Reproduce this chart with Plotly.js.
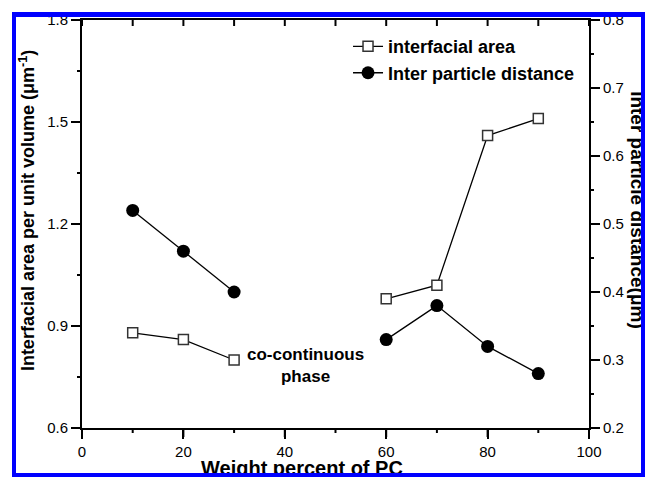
<!DOCTYPE html>
<html>
<head>
<meta charset="utf-8">
<script src="https://cdn.plot.ly/plotly-3.0.1.min.js"></script>
<style>
  html, body { margin: 0; padding: 0; background: #fff; }
  #wrap { position: relative; width: 647px; height: 477px; overflow: hidden; }
  #chart { position: absolute; left: 0; top: 0; width: 647px; height: 477px; }
  /* white margin plus blue frame drawn over the figure edges */
  #frame {
    position: absolute; left: 0; top: 0; width: 647px; height: 477px;
    box-sizing: border-box; border-style: solid; border-color: #fff;
    border-width: 12px 2px 0 12px; pointer-events: none;
  }
  #frame::after {
    content: ''; position: absolute; left: 0; top: 0; right: 0; bottom: 0;
    border: 4px solid #0000ff; border-top-width: 5px;
  }
</style>
</head>
<body>
<div id="wrap">
  <div id="chart"></div>
  <div id="frame"></div>
</div>
<script>
// Weight percent of PC in the blend
const weightPC = [10, 20, 30, 60, 70, 80, 90];
// Interfacial area per unit volume (µm^-1), left axis
const interfacialArea = [0.88, 0.86, 0.80, 0.98, 1.02, 1.46, 1.51];
// Inter particle distance (µm), right axis
const particleDistance = [0.52, 0.46, 0.40, 0.33, 0.38, 0.32, 0.28];

const seriesNames = ['interfacial area', 'Inter particle distance'];

// tick positions
const xMajorTicks = [0, 20, 40, 60, 80, 100];
const xMinorTicks = [10, 30, 50, 70, 90];
const leftMajorTicks = [0.6, 0.9, 1.2, 1.5, 1.8];
const leftMinorTicks = [0.75, 1.05, 1.35, 1.65];
const rightMajorTicks = [0.2, 0.3, 0.4, 0.5, 0.6, 0.7, 0.8];
const rightMinorTicks = [0.25, 0.35, 0.45, 0.55, 0.65, 0.75];

// break the line across the co-continuous composition range (30-60 wt%)
function withGap(xs, ys) {
  const gx = [], gy = [];
  xs.forEach((x, i) => {
    if (i > 0 && x - xs[i - 1] > 10) { gx.push(null); gy.push(null); }
    gx.push(x); gy.push(ys[i]);
  });
  return { x: gx, y: gy };
}

const FONT = 'Liberation Sans, Arial, Helvetica, sans-serif';
const a = withGap(weightPC, interfacialArea);
const d = withGap(weightPC, particleDistance);

const traces = [
  {
    x: a.x, y: a.y, name: seriesNames[0], type: 'scatter', mode: 'lines+markers',
    xaxis: 'x', yaxis: 'y', connectgaps: false,
    line: { color: '#000', width: 1.3 },
    marker: { symbol: 'square', size: 10, color: '#fff', line: { color: '#333', width: 1.5 } }
  },
  {
    x: d.x, y: d.y, name: seriesNames[1], type: 'scatter', mode: 'lines+markers',
    xaxis: 'x', yaxis: 'y2', connectgaps: false,
    line: { color: '#000', width: 1.3 },
    marker: { symbol: 'circle', size: 13, color: '#000', line: { width: 0 } }
  }
];

// tick marks as fixed-length pixel shapes anchored to the axis scales
const tickLine = { color: '#000', width: 2 };
function xTicks(vals, len, edge) {
  return vals.map(v => ({
    type: 'line', layer: 'above', xref: 'x', yref: 'paper',
    ysizemode: 'pixel', yanchor: edge, x0: v, x1: v, y0: 0, y1: len, line: tickLine
  }));
}
function yTicks(vals, axisRef, len, edge) {
  return vals.map(v => ({
    type: 'line', layer: 'above', xref: 'paper', yref: axisRef,
    xsizemode: 'pixel', xanchor: edge, x0: 0, x1: len, y0: v, y1: v, line: tickLine
  }));
}
const tickShapes = [].concat(
  xTicks(xMajorTicks, -9, 0), xTicks(xMinorTicks, -5, 0),          // bottom, outward
  xTicks(xMajorTicks.concat(xMinorTicks), -6, 1),                   // top, inward
  yTicks(leftMajorTicks, 'y', -9, 0), yTicks(leftMinorTicks, 'y', -5, 0),
  yTicks(rightMajorTicks, 'y2', 9, 1), yTicks(rightMinorTicks, 'y2', 5, 1)
);

const axisBase = {
  showline: true, linecolor: '#000', linewidth: 2,
  showgrid: false, zeroline: false, ticks: 'outside', ticklen: 9, tickwidth: 2,
  tickcolor: '#000', tickfont: { family: FONT, size: 15, color: '#000' }
};

const layout = {
  width: 647, height: 477,
  margin: { l: 82, r: 58, t: 20, b: 49, pad: 0 },
  paper_bgcolor: '#fff', plot_bgcolor: '#fff',
  font: { family: FONT, color: '#000' },
  showlegend: true,
  legend: {
    x: 0.5247, y: 0.98, xanchor: 'left', yanchor: 'top',
    bgcolor: 'rgba(0,0,0,0)', borderwidth: 0,
    font: { family: FONT, size: 18, weight: 'bold', color: '#000' }
  },
  xaxis: Object.assign({}, axisBase, {
    range: [0, 100], tickmode: 'array', tickvals: xMajorTicks, mirror: true
  }),
  yaxis: Object.assign({}, axisBase, {
    range: [0.6, 1.8], tickmode: 'array', tickvals: leftMajorTicks,
    ticktext: leftMajorTicks.map(v => v.toFixed(1))
  }),
  yaxis2: Object.assign({}, axisBase, {
    overlaying: 'y', side: 'right', anchor: 'x',
    range: [0.2, 0.8], tickmode: 'array', tickvals: rightMajorTicks,
    ticktext: rightMajorTicks.map(v => v.toFixed(1))
  }),
  shapes: tickShapes,
  annotations: [
    {
      text: 'Interfacial area per unit volume (μm<sup>-1</sup>)',
      xref: 'paper', yref: 'paper', x: -0.1085, y: 0.534,
      xanchor: 'center', yanchor: 'middle', textangle: -90, showarrow: false,
      font: { family: FONT, size: 18, weight: 'bold', color: '#000' }
    },
    {
      text: 'Inter particle distance(μm)',
      xref: 'paper', yref: 'paper', x: 1.0966, y: 0.534,
      xanchor: 'center', yanchor: 'middle', textangle: 90, showarrow: false,
      font: { family: FONT, size: 19, weight: 'bold', color: '#000' }
    },
    {
      text: 'Weight percent of PC',
      xref: 'paper', yref: 'paper', x: 0.4343, y: -0.066,
      xanchor: 'center', yanchor: 'top', showarrow: false,
      font: { family: FONT, size: 20, weight: 'bold', color: '#000' }
    },
    {
      text: 'co-continuous<br>phase',
      xref: 'paper', yref: 'paper', x: 0.4418, y: 0.154,
      xanchor: 'center', yanchor: 'middle', showarrow: false,
      font: { family: FONT, size: 17, weight: 'bold', color: '#000' }
    }
  ]
};

Plotly.newPlot('chart', traces, layout, { staticPlot: true, displayModeBar: false });
</script>
</body>
</html>
